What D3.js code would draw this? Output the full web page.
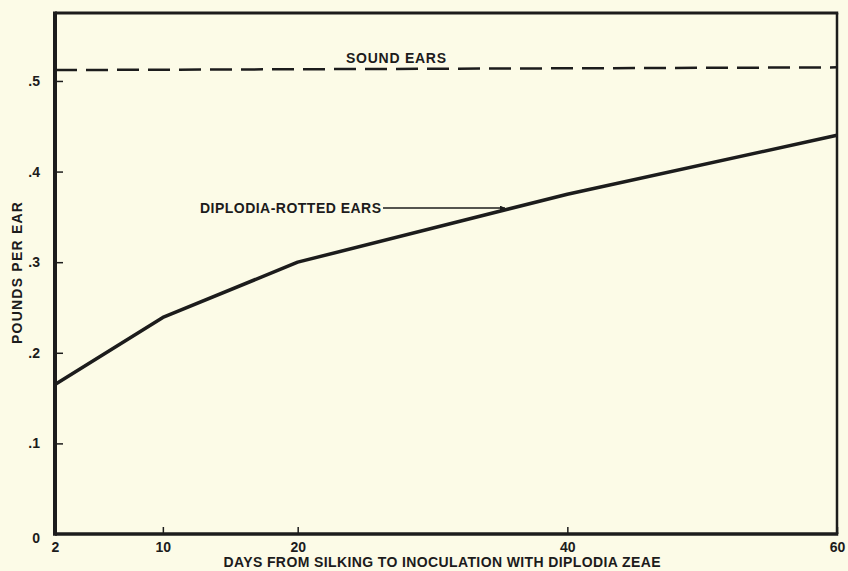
<!DOCTYPE html>
<html><head><meta charset="utf-8">
<script src="https://cdn.jsdelivr.net/npm/d3@7"></script>
<style>
html,body{margin:0;padding:0;background:#fcfbe7;}
svg{display:block;}
text{font-family:"Liberation Sans",Arial,sans-serif;font-weight:bold;fill:#1c1c1c;}
</style></head>
<body>
<script>
const days = [2, 10, 20, 40, 60];
const rottedEars = [0.165, 0.239, 0.300, 0.375, 0.440];
const soundDays = [2, 60];
const soundEars = [0.512, 0.515];
const xTicks = [2, 10, 20, 40, 60];
const yTicks = [0.1, 0.2, 0.3, 0.4, 0.5];
const yTickLabels = [".1", ".2", ".3", ".4", ".5"];

const W = 848, H = 571;
const svg = d3.select("body").append("svg").attr("width", W).attr("height", H);
svg.append("rect").attr("width", W).attr("height", H).attr("fill", "#fcfbe7");

const x = d3.scaleLinear().domain([2, 60]).range([55, 837]);
const y = d3.scaleLinear().domain([0, 0.575]).range([534, 13]);
const ink = "#1c1c1c";
const FS = 14;

// y axis (ticks inward)
const yAx = svg.append("g").attr("transform", `translate(${x(2)},0)`)
  .call(d3.axisLeft(y).tickValues(yTicks).tickSize(-8).tickPadding(15)
    .tickFormat((d, i) => yTickLabels[i]));
yAx.select(".domain").remove();
yAx.selectAll("line").attr("stroke", ink).attr("stroke-width", 1.5);
yAx.selectAll("text").attr("font-size", FS).attr("fill", ink)
  .attr("font-family", "Liberation Sans, Arial, sans-serif").attr("font-weight", "bold");

// x axis (ticks upward)
const xAx = svg.append("g").attr("transform", `translate(0,${y(0)})`)
  .call(d3.axisBottom(x).tickValues(xTicks).tickSize(-7).tickPadding(8).tickFormat(d3.format("d")));
xAx.select(".domain").remove();
xAx.selectAll("line").attr("stroke", ink).attr("stroke-width", 1.5);
xAx.selectAll("text").attr("font-size", FS).attr("fill", ink)
  .attr("font-family", "Liberation Sans, Arial, sans-serif").attr("font-weight", "bold");

// zero label at corner
svg.append("text").attr("x", x(2) - 15).attr("y", y(0) + 9).attr("text-anchor", "end")
  .attr("font-size", FS).text("0");

// frame
const [x0, x1] = x.range(), [y0, y1] = y.range();
svg.append("line").attr("x1", x0).attr("x2", x0).attr("y1", y1 - 1.5).attr("y2", y0 + 1.75).attr("stroke", ink).attr("stroke-width", 4);
svg.append("line").attr("x1", x0).attr("x2", x1 + 1.25).attr("y1", y0).attr("y2", y0).attr("stroke", ink).attr("stroke-width", 3.5);
svg.append("line").attr("x1", x0).attr("x2", x1 + 1.25).attr("y1", y1).attr("y2", y1).attr("stroke", ink).attr("stroke-width", 3);
svg.append("line").attr("x1", x1).attr("x2", x1).attr("y1", y1).attr("y2", y0).attr("stroke", ink).attr("stroke-width", 2.5);

// sound ears dashed line
const line = d3.line().x(d => x(d[0])).y(d => y(d[1]));
svg.append("path").datum(soundDays.map((d, i) => [d, soundEars[i]]))
  .attr("d", line).attr("fill", "none").attr("stroke", ink).attr("stroke-width", 2.5)
  .attr("stroke-dasharray", "22,9");

// rotted ears line
svg.append("path").datum(days.map((d, i) => [d, rottedEars[i]]))
  .attr("d", line).attr("fill", "none").attr("stroke", ink).attr("stroke-width", 3.5)
  .attr("stroke-linejoin", "round");

// labels
svg.append("text").attr("x", 396).attr("y", 63).attr("text-anchor", "middle")
  .attr("font-size", FS).attr("textLength", 100).text("SOUND EARS");

svg.append("text").attr("x", 200).attr("y", 213).attr("font-size", FS)
  .attr("textLength", 181).text("DIPLODIA-ROTTED EARS");

// arrow
svg.append("defs").append("marker").attr("id", "ah").attr("viewBox", "0 0 10 10")
  .attr("refX", 10).attr("refY", 5).attr("markerWidth", 10).attr("markerHeight", 5)
  .attr("markerUnits", "userSpaceOnUse").attr("orient", "auto")
  .append("path").attr("d", "M0,0 L10,5 L0,10 Z").attr("fill", ink);
svg.append("line").attr("x1", 383).attr("y1", 208).attr("x2", 505).attr("y2", 208)
  .attr("stroke", ink).attr("stroke-width", 1.3).attr("marker-end", "url(#ah)");

// axis titles
svg.append("text").attr("x", 442).attr("y", 567).attr("text-anchor", "middle")
  .attr("font-size", FS).attr("textLength", 437).text("DAYS FROM SILKING TO INOCULATION WITH DIPLODIA ZEAE");

svg.append("text").attr("transform", "translate(22,273) rotate(-90)").attr("text-anchor", "middle")
  .attr("font-size", FS).attr("textLength", 142).text("POUNDS PER EAR");
</script>
</body></html>
